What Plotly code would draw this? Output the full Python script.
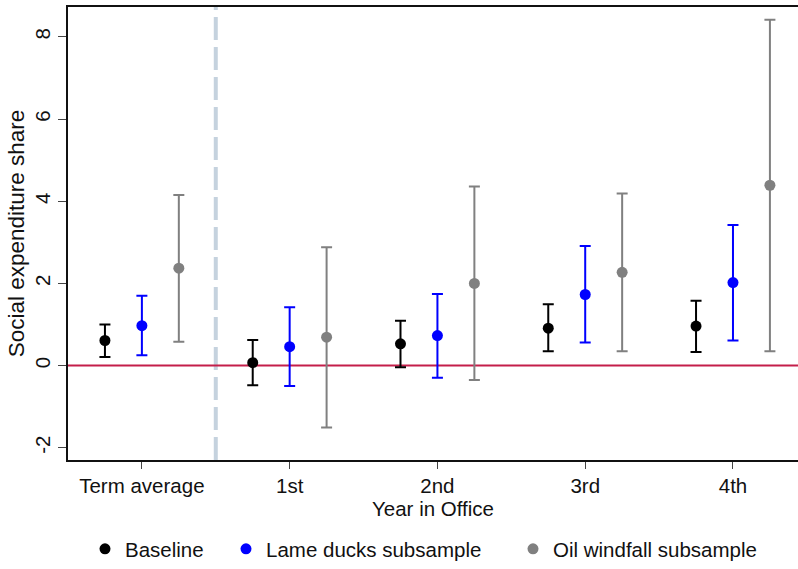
import plotly.graph_objects as go

# Categories on the x axis
categories = ["Term average", "1st", "2nd", "3rd", "4th"]
x_title = "Year in Office"
y_title = "Social expenditure share"
y_ticks = [-2, 0, 2, 4, 6, 8]
y_tick_text = ["-2", "0", "2", "4", "6", "8"]

# Point estimates and confidence bounds
baseline = [0.61, 0.07, 0.53, 0.91, 0.96]
baseline_hi = [1.00, 0.62, 1.09, 1.49, 1.58]
baseline_lo = [0.21, -0.48, -0.04, 0.35, 0.33]

lame_ducks = [0.97, 0.46, 0.73, 1.73, 2.02]
lame_ducks_hi = [1.70, 1.42, 1.74, 2.91, 3.42]
lame_ducks_lo = [0.25, -0.50, -0.30, 0.56, 0.61]

oil_windfall = [2.37, 0.69, 2.00, 2.27, 4.39]
oil_windfall_hi = [4.15, 2.88, 4.36, 4.19, 8.42]
oil_windfall_lo = [0.58, -1.51, -0.35, 0.35, 0.35]

# name, estimates, upper, lower, colour, x offset, legend entry width
series = [
    ("Baseline", baseline, baseline_hi, baseline_lo, "#000000", -0.25, 96),
    ("Lame ducks subsample", lame_ducks, lame_ducks_hi, lame_ducks_lo, "#0000ff", 0.0, 242),
    ("Oil windfall subsample", oil_windfall, oil_windfall_hi, oil_windfall_lo, "#808080", 0.25, 215),
]

FONT = "Liberation Sans, Arial, Helvetica, sans-serif"
FS = 20.5

fig = go.Figure()
for name, est, hi, lo, color, offset, lw in series:
    xs = [i + offset for i in range(len(categories))]
    fig.add_trace(go.Scatter(
        x=xs, y=est, mode="markers", name=name, legendwidth=lw,
        marker=dict(color=color, size=11),
        error_y=dict(
            type="data", symmetric=False,
            array=[h - e for h, e in zip(hi, est)],
            arrayminus=[e - l for e, l in zip(est, lo)],
            color=color, thickness=2, width=5.5,
        ),
    ))

# Separator between the term average and the yearly estimates
fig.add_shape(type="line", xref="x", yref="paper", x0=0.5, x1=0.5, y0=0, y1=1,
              line=dict(color="#c5d2de", width=4, dash="23px,7px"), layer="below")
# Reference line at zero
fig.add_shape(type="line", xref="paper", yref="y", x0=0, x1=1, y0=0, y1=0,
              line=dict(color="#c41e4a", width=2), layer="below")

fig.update_layout(
    width=798, height=569,
    margin=dict(l=68, r=0, t=7, b=109),
    paper_bgcolor="white", plot_bgcolor="white",
    font=dict(family=FONT, size=FS, color="#111111"),
    showlegend=True,
    legend=dict(orientation="h", x=85 / 798, xanchor="left", xref="container",
                y=0.0, yanchor="bottom", yref="container",
                font=dict(size=FS), itemclick=False, tracegroupgap=0),
    xaxis=dict(
        range=[-0.5, 4.44],
        tickmode="array", tickvals=list(range(len(categories))), ticktext=categories,
        tickfont=dict(size=FS),
        showgrid=False, zeroline=False,
        showline=True, linecolor="#111111", linewidth=1.5, mirror=True,
        ticks="outside", ticklen=7, tickcolor="#444444", tickwidth=1,
        title=dict(text=x_title, standoff=2, font=dict(size=FS)),
    ),
    yaxis=dict(
        range=[-2.30, 8.73],
        tickmode="array", tickvals=y_ticks, ticktext=y_tick_text,
        tickangle=-90, tickfont=dict(size=FS),
        showgrid=False, zeroline=False,
        showline=True, linecolor="#111111", linewidth=1.5,
        ticks="outside", ticklen=8, tickcolor="#444444", tickwidth=1,
        title=dict(text=y_title, standoff=0, font=dict(size=22.5)),
    ),
)

fig.write_html("out.html")
